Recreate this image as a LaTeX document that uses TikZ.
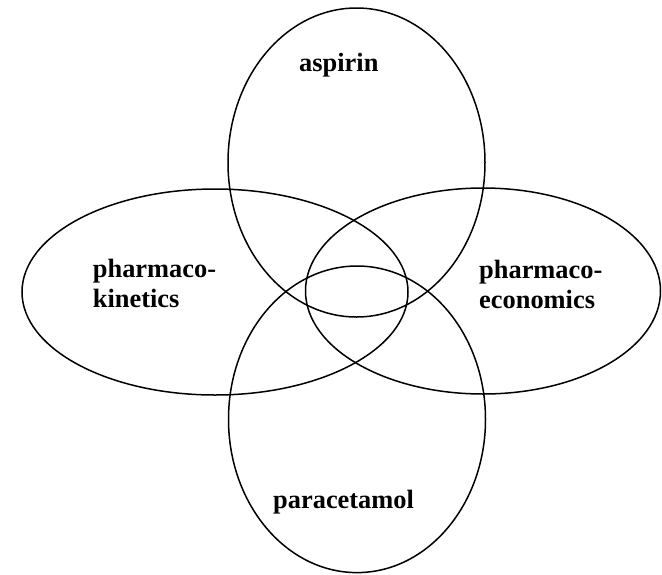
\documentclass[tikz,border=0pt]{standalone}
\usepackage{fontspec}
\setmainfont{Liberation Serif}
\begin{document}
\begin{tikzpicture}[x=1pt,y=-1pt,
  ring/.style={draw=black,line width=1.5pt},
  lbl/.style={inner sep=0pt,anchor=base west,font=\fontsize{26.4}{29.7}\selectfont\bfseries}]
\useasboundingbox[fill=white] (0,0) rectangle (662,574);
\draw[ring] (356.5,162.5) ellipse [x radius=128.5, y radius=154.5];
\draw[ring] (357,419.3) ellipse [x radius=128.5, y radius=153.3];
\draw[ring] (215,292) ellipse [x radius=193, y radius=103];
\draw[ring] (483,291) ellipse [x radius=177.5, y radius=103];
\node[lbl] (asp) at (299,71) {aspirin};
\node[lbl] (par) at (273,508.5) {paracetamol};
\node[lbl] (pk1) at (92.7,277.5) {pharmaco-};
\node[lbl] (pk2) at (92.7,307) {kinetics};
\node[lbl] (pe1) at (479,278.5) {pharmaco-};
\node[lbl] (pe2) at (479,308) {economics};
\end{tikzpicture}
\end{document}
